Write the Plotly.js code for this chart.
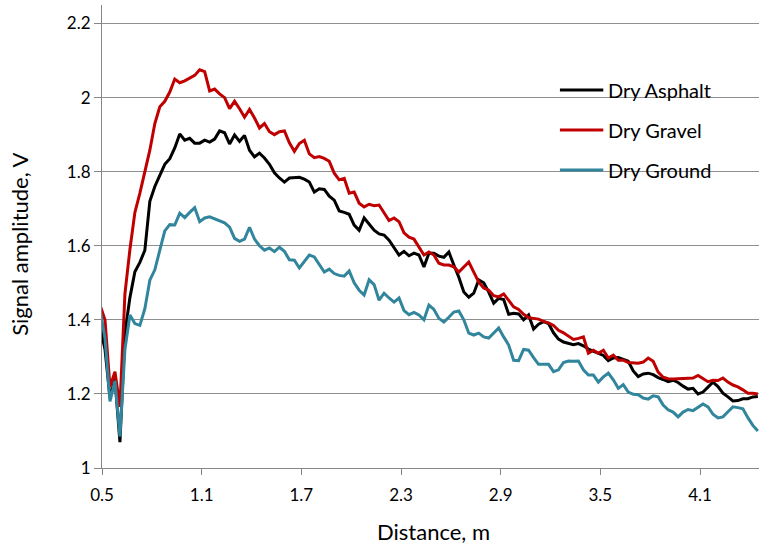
<!DOCTYPE html>
<html>
<head>
<meta charset="utf-8">
<script src="https://cdn.plot.ly/plotly-3.0.1.min.js"></script>
<style>
  html, body { margin: 0; padding: 0; background: #ffffff; }
  #chart { width: 759px; height: 546px; }
</style>
</head>
<body>
<div id="chart"></div>
<script>
// Distance sampling of the measured curves (m)
const distanceStart = 0.488;
const distanceStep = 0.03;

const seriesNames = ["Dry Asphalt", "Dry Gravel", "Dry Ground"];

const dryAsphalt = [
  1.385,1.32,1.19,1.24,1.07,1.364,1.46,1.53,1.555,1.588,
  1.72,1.76,1.79,1.82,1.835,1.864,1.902,1.885,1.89,1.877,
  1.877,1.885,1.88,1.888,1.91,1.905,1.875,1.899,1.882,1.898,
  1.858,1.84,1.85,1.837,1.82,1.797,1.783,1.772,1.783,1.783,
  1.785,1.78,1.772,1.745,1.754,1.752,1.734,1.723,1.694,1.69,
  1.685,1.656,1.642,1.675,1.66,1.642,1.632,1.629,1.615,1.594,
  1.575,1.585,1.573,1.58,1.575,1.543,1.58,1.58,1.572,1.569,
  1.583,1.548,1.515,1.475,1.461,1.472,1.508,1.5,1.475,1.445,
  1.458,1.455,1.415,1.418,1.416,1.4,1.413,1.375,1.388,1.395,
  1.39,1.365,1.348,1.34,1.336,1.333,1.336,1.33,1.321,1.315,
  1.311,1.304,1.29,1.297,1.298,1.293,1.288,1.262,1.247,1.254,
  1.256,1.252,1.244,1.239,1.233,1.237,1.231,1.221,1.213,1.215,
  1.2,1.205,1.219,1.232,1.22,1.202,1.192,1.181,1.182,1.187,
  1.187,1.192,1.193
];

const dryGravel = [
  1.44,1.40,1.219,1.26,1.165,1.47,1.59,1.69,1.742,1.804,
  1.858,1.93,1.975,1.99,2.015,2.05,2.04,2.045,2.052,2.06,
  2.075,2.07,2.018,2.023,2.01,2.0,1.97,1.99,1.97,1.947,
  1.968,1.945,1.918,1.93,1.908,1.9,1.908,1.91,1.878,1.855,
  1.876,1.885,1.848,1.838,1.841,1.836,1.828,1.796,1.778,1.782,
  1.742,1.745,1.715,1.705,1.712,1.708,1.71,1.69,1.668,1.675,
  1.665,1.635,1.623,1.618,1.595,1.575,1.583,1.575,1.553,1.548,
  1.548,1.543,1.529,1.543,1.556,1.529,1.502,1.486,1.48,1.465,
  1.462,1.47,1.452,1.435,1.428,1.415,1.406,1.405,1.402,1.396,
  1.392,1.385,1.372,1.365,1.356,1.347,1.35,1.354,1.31,1.318,
  1.31,1.318,1.297,1.305,1.291,1.291,1.285,1.285,1.283,1.286,
  1.297,1.288,1.259,1.245,1.241,1.24,1.241,1.24,1.242,1.243,
  1.25,1.241,1.233,1.237,1.236,1.243,1.232,1.224,1.219,1.211,
  1.202,1.202,1.2
];

const dryGround = [
  1.43,1.35,1.18,1.235,1.085,1.32,1.413,1.39,1.385,1.43,
  1.507,1.535,1.588,1.64,1.657,1.656,1.688,1.676,1.69,1.703,
  1.665,1.675,1.678,1.673,1.667,1.662,1.65,1.62,1.612,1.618,
  1.65,1.618,1.6,1.588,1.594,1.584,1.596,1.585,1.562,1.561,
  1.54,1.556,1.575,1.57,1.548,1.529,1.537,1.525,1.52,1.518,
  1.532,1.5,1.48,1.467,1.508,1.495,1.453,1.472,1.459,1.448,
  1.459,1.425,1.414,1.42,1.413,1.4,1.44,1.428,1.404,1.394,
  1.407,1.421,1.424,1.4,1.364,1.359,1.364,1.354,1.351,1.364,
  1.378,1.354,1.332,1.291,1.29,1.32,1.318,1.298,1.28,1.28,
  1.28,1.26,1.265,1.285,1.289,1.288,1.289,1.265,1.251,1.251,
  1.232,1.246,1.256,1.238,1.215,1.225,1.205,1.199,1.198,1.189,
  1.186,1.195,1.192,1.17,1.157,1.151,1.138,1.151,1.158,1.155,
  1.165,1.173,1.165,1.145,1.135,1.138,1.152,1.165,1.163,1.16,
  1.136,1.115,1.1
];

const xTickValues = [0.5, 1.1, 1.7, 2.3, 2.9, 3.5, 4.1];
const yTickValues = [1, 1.2, 1.4, 1.6, 1.8, 2, 2.2];
const xTitle = "Distance, m";
const yTitle = "Signal amplitude, V";

const colors = ["#000000", "#C00000", "#31859C"];
const allSeries = [dryAsphalt, dryGravel, dryGround];
const FONT = "Lato, 'Open Sans', sans-serif";

const traces = allSeries.map((vals, i) => ({
  type: "scatter",
  mode: "lines",
  name: seriesNames[i],
  x0: distanceStart,
  dx: distanceStep,
  y: vals,
  line: { color: colors[i], width: 3 },
  showlegend: false,
  hoverinfo: "skip"
}));

// manual legend (Excel style): white box, long line samples, labels
const shapes = [{
  type: "rect", xref: "paper", yref: "paper",
  x0: 0.639, x1: 1.0, y0: 0.568, y1: 0.881,
  fillcolor: "#ffffff", line: { width: 0 }, layer: "below"
}];
const annotations = [];
const legendRowsY = [0.8164, 0.7300, 0.6436];
seriesNames.forEach((name, i) => {
  shapes.push({
    type: "line", xref: "paper", yref: "paper",
    x0: 0.697, x1: 0.763, y0: legendRowsY[i], y1: legendRowsY[i],
    line: { color: colors[i], width: 3 }
  });
  annotations.push({
    xref: "paper", yref: "paper", x: 0.767, y: legendRowsY[i],
    xanchor: "left", yanchor: "middle", showarrow: false,
    text: name, font: { family: FONT, size: 20, color: "#000000" }
  });
});
annotations.push({
  xref: "paper", yref: "paper", x: 0.505, y: -0.138,
  xanchor: "center", yanchor: "middle", showarrow: false,
  text: xTitle, font: { family: FONT, size: 22, color: "#000000" }
});
annotations.push({
  xref: "paper", yref: "paper", x: -0.125, y: 0.484,
  xanchor: "center", yanchor: "middle", showarrow: false, textangle: -90,
  text: yTitle, font: { family: FONT, size: 22, color: "#000000" }
});

const layout = {
  width: 759, height: 546,
  margin: { l: 102, r: 0, t: 5, b: 78, pad: 0 },
  paper_bgcolor: "#ffffff", plot_bgcolor: "#ffffff",
  font: { family: FONT, size: 17, color: "#000000" },
  xaxis: {
    range: [0.5, 4.455],
    tickvals: xTickValues,
    ticktext: xTickValues.map(v => v.toFixed(1)),
    showgrid: false, zeroline: false,
    showline: true, linecolor: "#868686", linewidth: 1,
    ticks: "outside", ticklen: 6, tickcolor: "#868686", tickwidth: 1,
    tickfont: { family: FONT, size: 17, color: "#000000" },
    ticklabelstandoff: 6
  },
  yaxis: {
    range: [1, 2.25],
    tickvals: yTickValues,
    ticktext: yTickValues.map(v => String(v)),
    showgrid: true, gridcolor: "#8f8f8f", gridwidth: 1,
    zeroline: false,
    showline: true, linecolor: "#868686", linewidth: 1,
    ticks: "outside", ticklen: 7, tickcolor: "#868686", tickwidth: 1,
    tickfont: { family: FONT, size: 17, color: "#000000" }
  },
  shapes: shapes,
  annotations: annotations
};

Plotly.newPlot("chart", traces, layout, { staticPlot: true, displayModeBar: false });
</script>
</body>
</html>
